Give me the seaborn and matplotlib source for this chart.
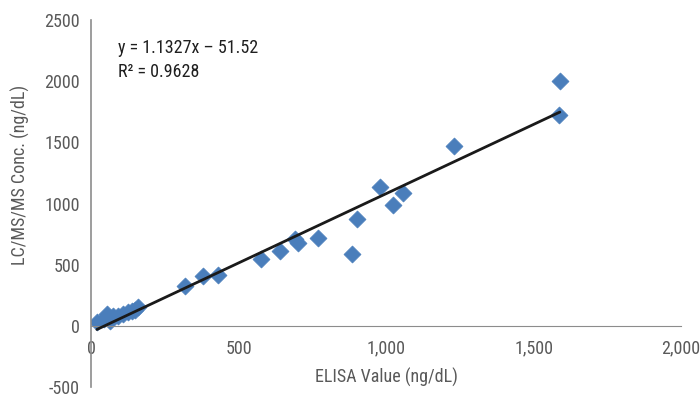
import numpy as np
import seaborn as sns
import matplotlib.pyplot as plt
import pandas as pd

# ELISA vs LC/MS/MS values
elisa = [20, 45, 55, 65, 75, 90, 110, 125, 140, 150, 160,
         320, 380, 430, 575, 640, 690, 700, 770, 886, 900,
         981, 1025, 1056, 1229, 1586, 1589]
lcms = [30, 60, 95, 40, 85, 80, 100, 110, 120, 130, 155,
        325, 405, 420, 550, 615, 710, 680, 715, 590, 875,
        1135, 985, 1085, 1475, 1725, 2000]

slope = 1.1327
intercept = -51.52
eq_text = "y = 1.1327x – 51.52"
r2_text = "R² = 0.9628"

x_ticks = [0, 500, 1000, 1500, 2000]
y_ticks = [-500, 0, 500, 1000, 1500, 2000, 2500]

df = pd.DataFrame({"ELISA": elisa, "LCMS": lcms})

sns.set_style("white")
plt.rcParams["font.family"] = ["Roboto Condensed", "DejaVu Sans"]

fig = plt.figure(figsize=(7, 3.95), dpi=100)
ax = fig.add_axes([0.13, 0.02, 0.843, 0.929])

sns.scatterplot(data=df, x="ELISA", y="LCMS", marker="D", s=75,
                color="#4a7ebb", edgecolor="#4a7ebb", linewidth=0.5,
                ax=ax, zorder=2)

# trendline over the data range
xs = np.array([min(elisa), max(elisa)])
ax.plot(xs, slope * xs + intercept, color="#1a1a1a", lw=2, zorder=3)

ax.set_xlim(0, 2000)
ax.set_ylim(-500, 2500)
ax.set_xticks(x_ticks)
ax.set_xticklabels([f"{v:,}" for v in x_ticks])
ax.set_yticks(y_ticks)
ax.set_yticklabels([str(v) for v in y_ticks])

gray = "#595959"
for s in ["top", "right"]:
    ax.spines[s].set_visible(False)
ax.spines["bottom"].set_position(("data", 0))
ax.spines["bottom"].set_color("#8c8c8c")
ax.spines["left"].set_color("#8c8c8c")
ax.spines["left"].set_linewidth(1.2)
ax.tick_params(axis="both", length=0, labelsize=13, labelcolor=gray)
ax.tick_params(axis="x", pad=10)
ax.tick_params(axis="y", pad=8)

ax.set_xlabel("ELISA Value (ng/dL)", fontsize=13, color=gray)
ax.set_ylabel("LC/MS/MS Conc. (ng/dL)", fontsize=13, color=gray)
ax.xaxis.set_label_coords(0.5, 0.052)
ax.yaxis.set_label_coords(-0.103, 0.578)

ax.text(0.046, 0.924, eq_text, transform=ax.transAxes, fontsize=13,
        color="#1f1f1f", va="center")
ax.text(0.046, 0.858, r2_text, transform=ax.transAxes, fontsize=13,
        color="#1f1f1f", va="center")

fig.savefig("out.png", dpi=100)
